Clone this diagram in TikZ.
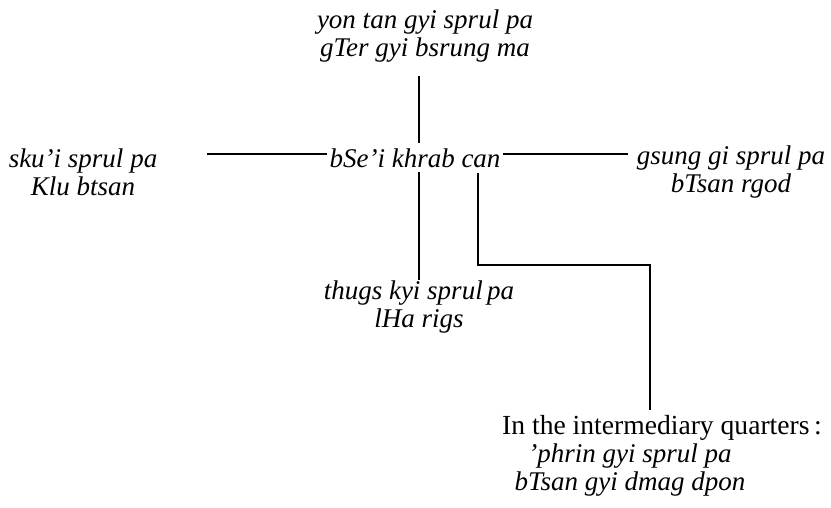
\documentclass[tikz,border=0pt]{standalone}
\usepackage{fontspec}
\setmainfont{Liberation Serif}
\usepackage{tikz}
\usetikzlibrary{calc}

\tikzset{
	deity/.style={align=center, inner sep=1pt, font=\fontsize{13.5}{14}\selectfont\itshape},
	heading/.style={inner sep=1pt, font=\fontsize{13.8}{14}\selectfont},
	link/.style={line width=0.8pt}
}

\begin{document}
\begin{tikzpicture}[x=0.5pt,y=-0.5pt]
		\useasboundingbox (0,0) rectangle (831,508);
		\node[deity] (top) at (425,36) {yon tan gyi sprul pa\\gTer gyi bsrung ma};
		\node[deity] (centre) at (415,158) {bSe'i khrab can};
		\node[deity] (west) at (83,172) {sku'i sprul pa\\Klu btsan};
		\node[deity] (east) at (731,172) {gsung gi sprul pa\\bTsan rgod};
		\node[deity] (south) at (419,307) {thugs kyi sprul\,pa\\lHa rigs};
		\node[heading] (quarters) at (662,428) {In the intermediary quarters\,:};
		\node[deity] (phrin) at (630,470) {'phrin gyi sprul pa\\bTsan gyi dmag dpon};
		\coordinate (wend) at (207,154);
		\coordinate (eend) at (628,154);
		\coordinate (bend) at (478,265);
		\draw[link] (419,76) -- (419,143);
		\draw[link] (wend) -- (wend -| centre.west);
		\draw[link] (eend -| centre.east) -- (eend);
		\draw[link] (419,172) -- (419,280);
		\draw[link] (478,173) -- (bend) -| (650,410);
	\end{tikzpicture}
\end{document}
